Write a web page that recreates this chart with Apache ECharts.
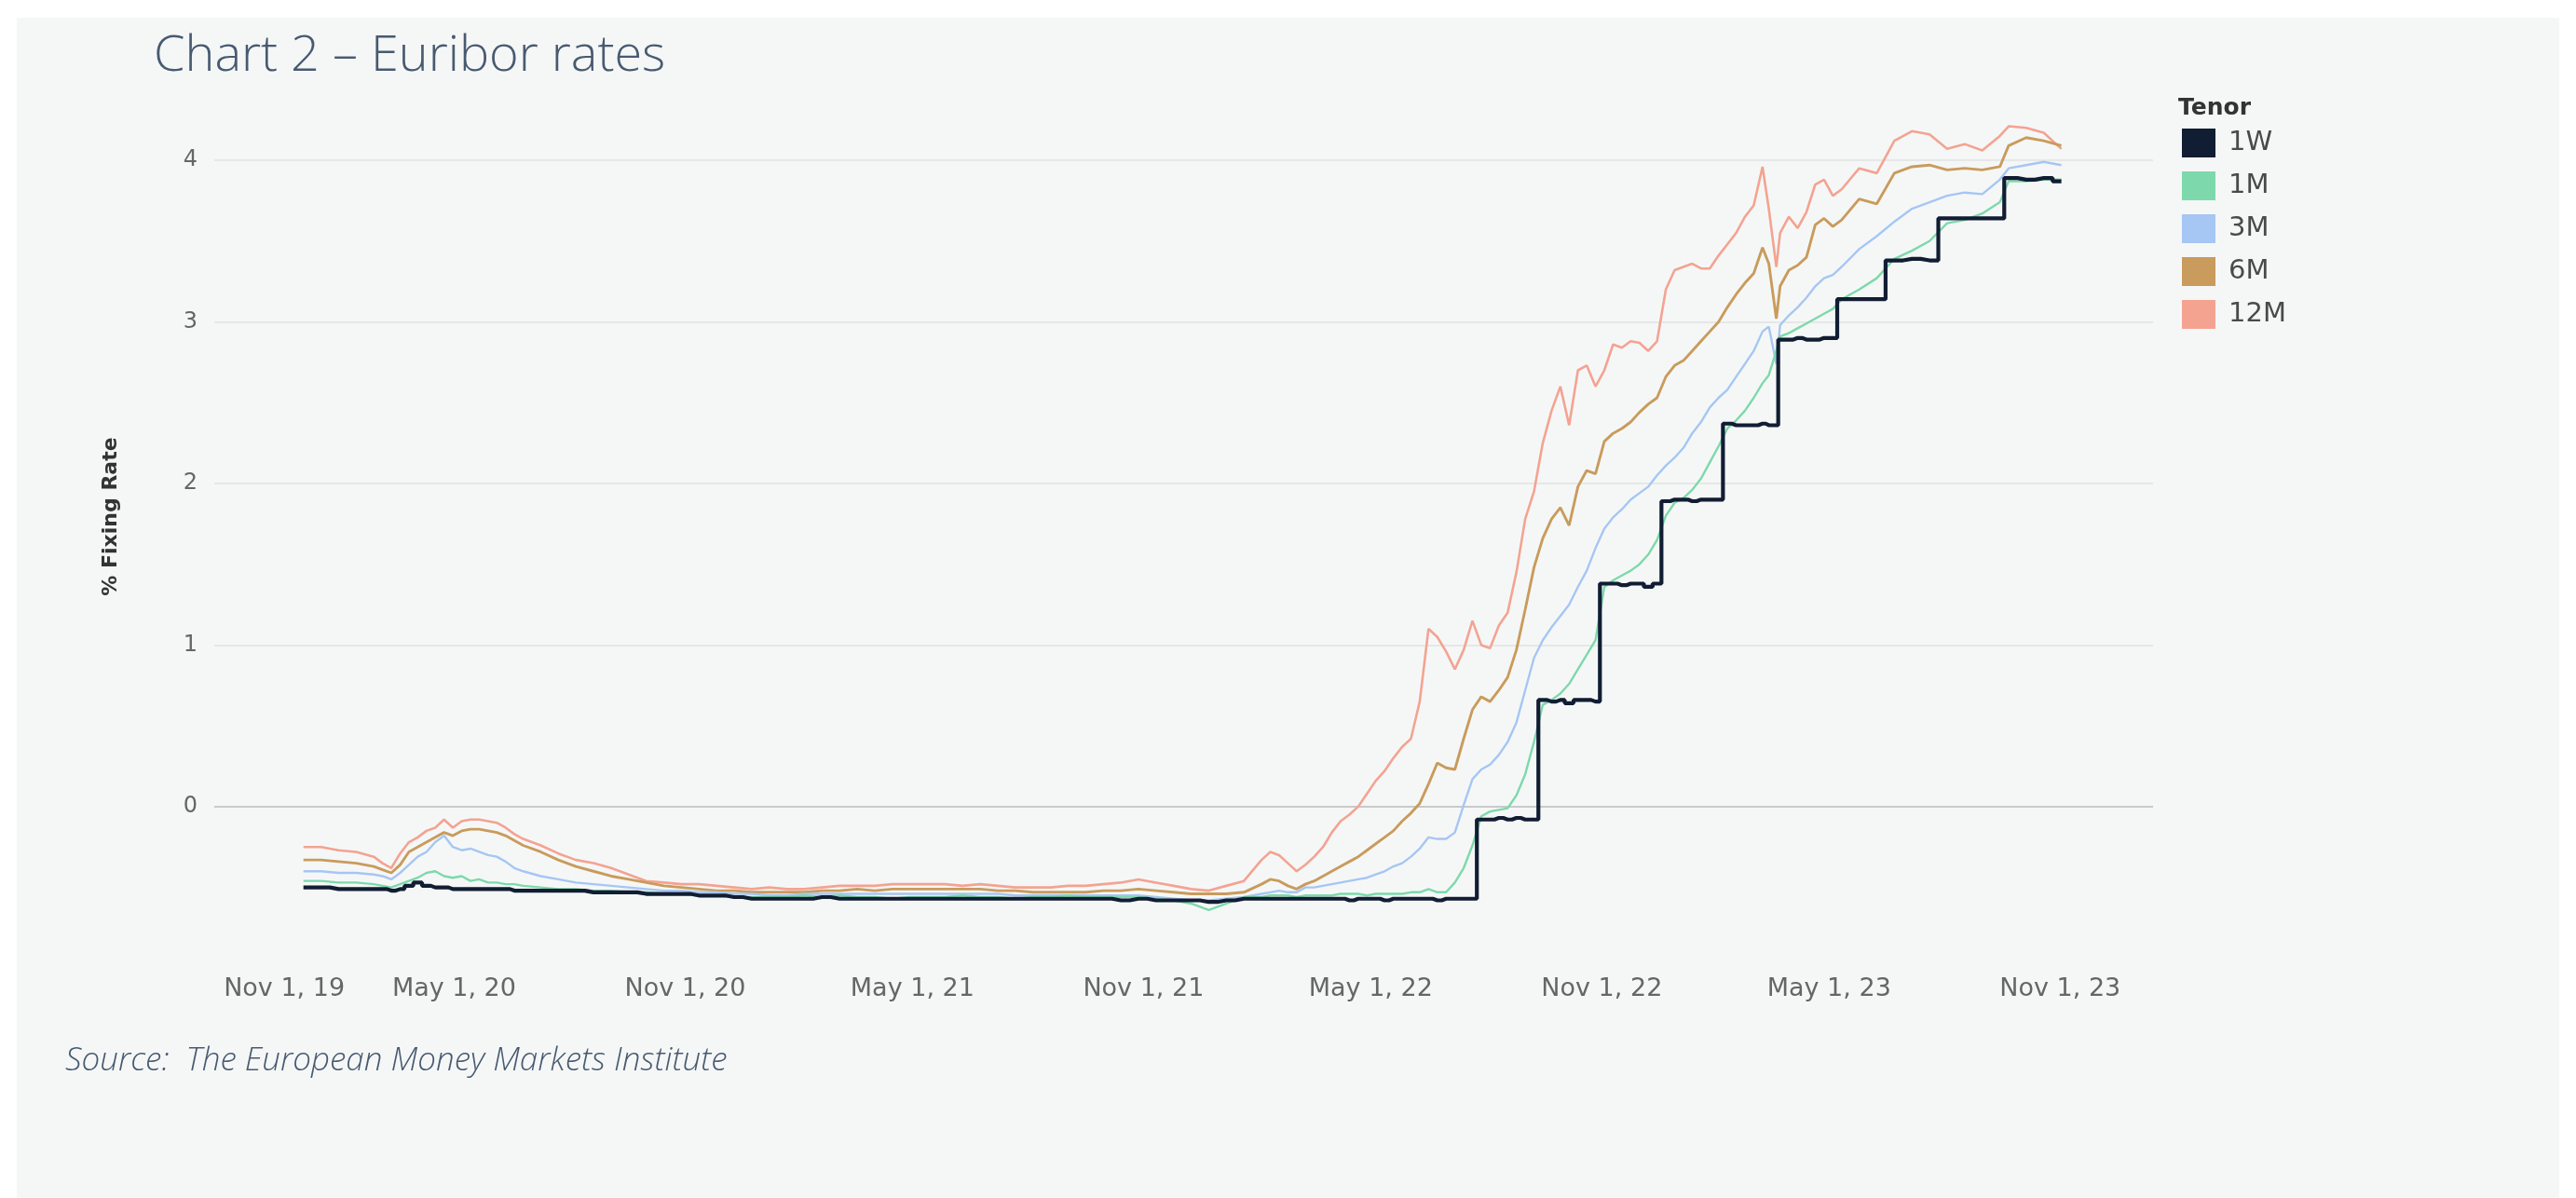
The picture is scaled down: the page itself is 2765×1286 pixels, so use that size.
<!DOCTYPE html>
<html>
<head>
<meta charset="utf-8">
<script src="https://cdn.jsdelivr.net/npm/echarts@6/dist/echarts.min.js"></script>
<style>
html,body{margin:0;padding:0;background:#ffffff;width:2765px;height:1286px;overflow:hidden}
#panel{position:absolute;left:18px;top:19px;width:2729px;height:1267px;background:#f5f7f7}
#chart{position:absolute;left:0;top:0;width:2765px;height:1286px}
</style>
</head>
<body>
<div id="panel"></div>
<div id="chart"></div>
<script>
// ---- Data ----
const dates = [
  // 2020
  '2020-01-02','2020-01-16','2020-01-30','2020-02-13','2020-02-27','2020-03-05','2020-03-12','2020-03-19','2020-03-26','2020-04-02',
  '2020-04-09','2020-04-16','2020-04-23','2020-04-30','2020-05-07','2020-05-14','2020-05-21','2020-05-28','2020-06-04','2020-06-11',
  '2020-06-18','2020-06-25','2020-07-09','2020-07-23','2020-08-06','2020-08-20','2020-09-03','2020-09-17','2020-10-01','2020-10-15',
  '2020-10-29','2020-11-12','2020-11-26','2020-12-10','2020-12-24',
  // 2021
  '2021-01-07','2021-01-21','2021-02-04','2021-02-18','2021-03-04','2021-03-18','2021-04-01','2021-04-15','2021-04-29','2021-05-13',
  '2021-05-27','2021-06-10','2021-06-24','2021-07-08','2021-07-22','2021-08-05','2021-08-19','2021-09-02','2021-09-16','2021-09-30',
  '2021-10-14','2021-10-28','2021-11-11','2021-11-25','2021-12-09','2021-12-23',
  // 2022 Q1
  '2022-01-06','2022-01-20','2022-02-03','2022-02-10','2022-02-17','2022-02-24','2022-03-03','2022-03-10','2022-03-17','2022-03-24',
  // weekly
  '2022-03-31','2022-04-07','2022-04-14','2022-04-21','2022-04-28','2022-05-05','2022-05-12','2022-05-19','2022-05-26','2022-06-02',
  '2022-06-09','2022-06-16','2022-06-23','2022-06-30','2022-07-07','2022-07-14','2022-07-21','2022-07-28','2022-08-04','2022-08-11',
  '2022-08-18','2022-08-25','2022-09-01','2022-09-08','2022-09-15','2022-09-22','2022-09-29','2022-10-06','2022-10-13','2022-10-20',
  '2022-10-27','2022-11-03','2022-11-10','2022-11-17','2022-11-24','2022-12-01','2022-12-08','2022-12-15','2022-12-22','2022-12-29',
  '2023-01-05','2023-01-12','2023-01-19','2023-01-26','2023-02-02','2023-02-09','2023-02-16','2023-02-23','2023-03-02','2023-03-09',
  // 2023 tail
  '2023-03-14','2023-03-20','2023-03-23','2023-03-30','2023-04-06','2023-04-13','2023-04-20','2023-04-27','2023-05-04','2023-05-11',
  '2023-05-25','2023-06-08','2023-06-22','2023-07-06','2023-07-20','2023-08-03','2023-08-17','2023-08-31','2023-09-14','2023-09-21',
  '2023-10-05','2023-10-19','2023-11-02'
];

const rate12M = [
  -0.25,-0.25,-0.27,-0.28,-0.31,-0.35,-0.38,-0.29,-0.22,-0.19,
  -0.15,-0.13,-0.08,-0.13,-0.09,-0.08,-0.08,-0.09,-0.10,-0.13,
  -0.17,-0.20,-0.24,-0.29,-0.33,-0.35,-0.38,-0.42,-0.46,-0.47,
  -0.48,-0.48,-0.49,-0.50,-0.51,
  -0.50,-0.51,-0.51,-0.50,-0.49,-0.49,-0.49,-0.48,-0.48,-0.48,
  -0.48,-0.49,-0.48,-0.49,-0.50,-0.50,-0.50,-0.49,-0.49,-0.48,
  -0.47,-0.45,-0.47,-0.49,-0.51,-0.52,
  -0.49,-0.46,-0.33,-0.28,-0.30,-0.35,-0.40,-0.36,-0.31,-0.25,
  -0.16,-0.09,-0.05,0.00,0.08,0.16,0.22,0.30,0.37,0.42,
  0.65,1.10,1.05,0.96,0.85,0.97,1.15,1.00,0.98,1.12,
  1.20,1.45,1.78,1.95,2.25,2.45,2.60,2.36,2.70,2.73,
  2.60,2.70,2.86,2.84,2.88,2.87,2.82,2.88,3.20,3.32,
  3.34,3.36,3.33,3.33,3.41,3.48,3.55,3.65,3.72,3.96,
  3.70,3.34,3.55,3.65,3.58,3.68,3.85,3.88,3.78,3.82,
  3.95,3.92,4.12,4.18,4.16,4.07,4.10,4.06,4.15,4.21,
  4.20,4.17,4.07
];

const rate6M = [
  -0.33,-0.33,-0.34,-0.35,-0.37,-0.39,-0.41,-0.36,-0.28,-0.25,
  -0.22,-0.19,-0.16,-0.18,-0.15,-0.14,-0.14,-0.15,-0.16,-0.18,
  -0.21,-0.24,-0.28,-0.33,-0.37,-0.40,-0.43,-0.45,-0.47,-0.49,
  -0.50,-0.51,-0.52,-0.52,-0.53,
  -0.53,-0.53,-0.53,-0.52,-0.52,-0.51,-0.52,-0.51,-0.51,-0.51,
  -0.51,-0.51,-0.51,-0.52,-0.52,-0.53,-0.53,-0.53,-0.53,-0.52,
  -0.52,-0.51,-0.52,-0.53,-0.54,-0.54,
  -0.54,-0.53,-0.48,-0.45,-0.46,-0.49,-0.51,-0.48,-0.46,-0.43,
  -0.40,-0.37,-0.34,-0.31,-0.27,-0.23,-0.19,-0.15,-0.09,-0.04,
  0.02,0.14,0.27,0.24,0.23,0.42,0.60,0.68,0.65,0.72,
  0.80,0.97,1.22,1.48,1.66,1.78,1.85,1.74,1.98,2.08,
  2.06,2.26,2.31,2.34,2.38,2.44,2.49,2.53,2.66,2.73,
  2.76,2.82,2.88,2.94,3.00,3.09,3.17,3.24,3.30,3.46,
  3.36,3.02,3.22,3.32,3.35,3.40,3.60,3.64,3.59,3.63,
  3.76,3.73,3.92,3.96,3.97,3.94,3.95,3.94,3.96,4.09,
  4.14,4.12,4.09
];

const rate3M = [
  -0.40,-0.40,-0.41,-0.41,-0.42,-0.43,-0.45,-0.41,-0.36,-0.31,
  -0.28,-0.22,-0.18,-0.25,-0.27,-0.26,-0.28,-0.30,-0.31,-0.34,
  -0.38,-0.40,-0.43,-0.45,-0.47,-0.48,-0.49,-0.50,-0.51,-0.52,
  -0.52,-0.53,-0.53,-0.54,-0.54,
  -0.55,-0.55,-0.54,-0.54,-0.54,-0.54,-0.54,-0.54,-0.54,-0.54,
  -0.54,-0.54,-0.54,-0.54,-0.55,-0.55,-0.55,-0.55,-0.55,-0.55,
  -0.55,-0.55,-0.56,-0.57,-0.58,-0.58,
  -0.57,-0.56,-0.54,-0.53,-0.52,-0.53,-0.53,-0.50,-0.50,-0.49,
  -0.48,-0.47,-0.46,-0.45,-0.44,-0.42,-0.40,-0.37,-0.35,-0.31,
  -0.26,-0.19,-0.20,-0.20,-0.16,0.01,0.17,0.23,0.26,0.32,
  0.40,0.52,0.72,0.92,1.03,1.11,1.18,1.25,1.36,1.46,
  1.60,1.72,1.79,1.84,1.90,1.94,1.98,2.05,2.11,2.16,
  2.22,2.31,2.38,2.47,2.53,2.58,2.66,2.74,2.82,2.94,
  2.97,2.74,2.98,3.04,3.09,3.15,3.22,3.27,3.29,3.34,
  3.45,3.53,3.62,3.70,3.74,3.78,3.80,3.79,3.88,3.95,
  3.97,3.99,3.97
];

const rate1M = [
  -0.46,-0.46,-0.47,-0.47,-0.48,-0.49,-0.50,-0.48,-0.46,-0.44,
  -0.41,-0.40,-0.43,-0.44,-0.43,-0.46,-0.45,-0.47,-0.47,-0.48,
  -0.48,-0.49,-0.50,-0.51,-0.51,-0.52,-0.52,-0.53,-0.53,-0.54,
  -0.54,-0.55,-0.55,-0.56,-0.56,
  -0.56,-0.56,-0.55,-0.56,-0.55,-0.56,-0.56,-0.57,-0.56,-0.56,
  -0.56,-0.55,-0.56,-0.56,-0.57,-0.56,-0.56,-0.55,-0.56,-0.56,
  -0.56,-0.56,-0.57,-0.58,-0.60,-0.64,
  -0.60,-0.56,-0.56,-0.55,-0.55,-0.55,-0.56,-0.55,-0.55,-0.55,
  -0.55,-0.54,-0.54,-0.54,-0.55,-0.54,-0.54,-0.54,-0.54,-0.53,
  -0.53,-0.51,-0.53,-0.53,-0.47,-0.38,-0.24,-0.06,-0.03,-0.02,
  -0.01,0.07,0.20,0.40,0.63,0.66,0.70,0.76,0.85,0.94,
  1.03,1.36,1.40,1.43,1.46,1.50,1.56,1.65,1.80,1.88,
  1.91,1.96,2.03,2.13,2.23,2.34,2.39,2.45,2.53,2.62,
  2.67,2.82,2.91,2.93,2.96,2.99,3.02,3.05,3.08,3.14,
  3.20,3.27,3.39,3.44,3.50,3.61,3.63,3.67,3.74,3.87,
  3.87,3.88,3.88
];

const rate1W = [
  -0.50,-0.50,-0.51,-0.51,-0.51,-0.51,-0.52,-0.51,-0.49,-0.47,
  -0.49,-0.50,-0.50,-0.51,-0.51,-0.51,-0.51,-0.51,-0.51,-0.51,
  -0.52,-0.52,-0.52,-0.52,-0.52,-0.53,-0.53,-0.53,-0.54,-0.54,
  -0.54,-0.55,-0.55,-0.56,-0.57,
  -0.57,-0.57,-0.57,-0.56,-0.57,-0.57,-0.57,-0.57,-0.57,-0.57,
  -0.57,-0.57,-0.57,-0.57,-0.57,-0.57,-0.57,-0.57,-0.57,-0.57,
  -0.58,-0.57,-0.58,-0.58,-0.58,-0.59,
  -0.58,-0.57,-0.57,-0.57,-0.57,-0.57,-0.57,-0.57,-0.57,-0.57,
  -0.57,-0.57,-0.58,-0.57,-0.57,-0.57,-0.58,-0.57,-0.57,-0.57,
  -0.57,-0.57,-0.58,-0.57,-0.57,-0.57,-0.57,-0.08,-0.08,-0.07,
  -0.08,-0.07,-0.08,-0.08,0.66,0.65,0.66,0.64,0.66,0.66,
  0.65,1.38,1.38,1.37,1.38,1.38,1.36,1.38,1.89,1.90,
  1.90,1.89,1.90,1.90,1.90,2.37,2.36,2.36,2.36,2.37,
  2.36,2.36,2.89,2.89,2.90,2.89,2.89,2.90,2.90,3.14,
  3.14,3.14,3.38,3.39,3.38,3.64,3.64,3.64,3.64,3.89,
  3.88,3.89,3.87
];

const seriesNames = ['1W', '1M', '3M', '6M', '12M'];
const seriesColors = ['#111d33', '#7dd9ab', '#a6c6f3', '#c99b5c', '#f4a391'];

const xTickDates = ['2019-11-01','2020-05-01','2020-11-01','2021-05-01','2021-11-01','2022-05-01','2022-11-01','2023-05-01','2023-11-01'];
const xTickLabels = ['Nov 1, 19','May 1, 20','Nov 1, 20','May 1, 21','Nov 1, 21','May 1, 22','Nov 1, 22','May 1, 23','Nov 1, 23'];
const yTicks = [0, 1, 2, 3, 4];

// ---- Helpers ----
function ts(s) { const p = s.split('-').map(Number); return new Date(p[0], p[1] - 1, p[2]).getTime(); }
function pairs(vals) { return dates.map((d, i) => [ts(d), vals[i]]); }
const xTickTs = xTickDates.map(ts);

const labelFont = 'DejaVu Sans';
const chart = echarts.init(document.getElementById('chart'), null, { renderer: 'canvas' });

const valueMap = { '1W': rate1W, '1M': rate1M, '3M': rate3M, '6M': rate6M, '12M': rate12M };
const widthMap = { '1W': 4.2, '1M': 2.4, '3M': 2.4, '6M': 2.9, '12M': 2.6 };
const drawOrder = ['12M', '6M', '3M', '1M', '1W'];

const series = drawOrder.map(name => {
  const idx = seriesNames.indexOf(name);
  return {
    name: name,
    type: 'line',
    data: pairs(valueMap[name]),
    symbol: 'none',
    showSymbol: false,
    step: name === '1W' ? 'middle' : false,
    color: seriesColors[idx],
    itemStyle: { color: seriesColors[idx] },
    lineStyle: { width: widthMap[name], color: seriesColors[idx] },
    emphasis: { disabled: true },
    animation: false
  };
});

chart.setOption({
  animation: false,
  backgroundColor: 'transparent',
  title: [
    { text: 'Chart 2 \u2013 Euribor rates', left: 165, top: 34, padding: 0,
      textStyle: { fontFamily: 'Open Sans', fontWeight: 300, fontSize: 54, lineHeight: 54, color: '#485a70' } },
    { text: 'Source:  The European Money Markets Institute', left: 70, top: 1122, padding: 0,
      textStyle: { fontFamily: 'Open Sans', fontStyle: 'italic', fontWeight: 300, fontSize: 35, lineHeight: 35, color: '#485a70' } },
    { text: 'Tenor', left: 2338, top: 104, padding: 0,
      textStyle: { fontFamily: labelFont, fontWeight: 'bold', fontSize: 25, lineHeight: 25, color: '#333333' } }
  ],
  legend: {
    data: seriesNames,
    orient: 'vertical',
    left: 2342,
    top: 138,
    padding: 0,
    itemWidth: 36,
    itemHeight: 31,
    itemGap: 15,
    icon: 'rect',
    selectedMode: false,
    itemStyle: { borderWidth: 0 },
    textStyle: { fontFamily: labelFont, fontSize: 29, lineHeight: 31, color: '#4a4a4a', padding: [0, 0, 0, 9] }
  },
  grid: { left: 230, right: 454, top: 87, bottom: 264, containLabel: false },
  xAxis: {
    type: 'value',
    min: ts('2019-10-23'),
    max: ts('2024-01-14'),
    axisLine: { show: false },
    axisTick: { show: false, customValues: xTickTs },
    splitLine: { show: false },
    axisLabel: {
      customValues: xTickTs,
      margin: 26,
      fontFamily: labelFont,
      fontSize: 27,
      lineHeight: 27,
      color: '#666666',
      formatter: function (value) {
        let i = xTickTs.findIndex(t => Math.abs(t - value) < 3600000 * 12);
        if (i < 0) return '';
        return i === 0 ? '{first|' + xTickLabels[i] + '}' : xTickLabels[i];
      },
      rich: {
        first: { fontFamily: labelFont, fontSize: 27, lineHeight: 27, color: '#666666', padding: [0, 0, 0, 126] }
      }
    }
  },
  yAxis: {
    type: 'value',
    min: -0.9,
    max: 4.49,
    name: '% Fixing Rate',
    nameLocation: 'middle',
    nameGap: 100,
    nameRotate: 90,
    nameTextStyle: { fontFamily: labelFont, fontWeight: 'bold', fontSize: 22, lineHeight: 22, color: '#333333' },
    axisLine: { show: false },
    axisTick: { show: false, customValues: yTicks },
    axisLabel: { customValues: yTicks, margin: 18, fontFamily: labelFont, fontSize: 24, color: '#666666' },
    splitLine: { show: true, lineStyle: { color: ['#c9c9c9', '#e6e8e8', '#e6e8e8', '#e6e8e8', '#e6e8e8'], width: 2 } }
  },
  series: series
});
</script>
</body>
</html>
